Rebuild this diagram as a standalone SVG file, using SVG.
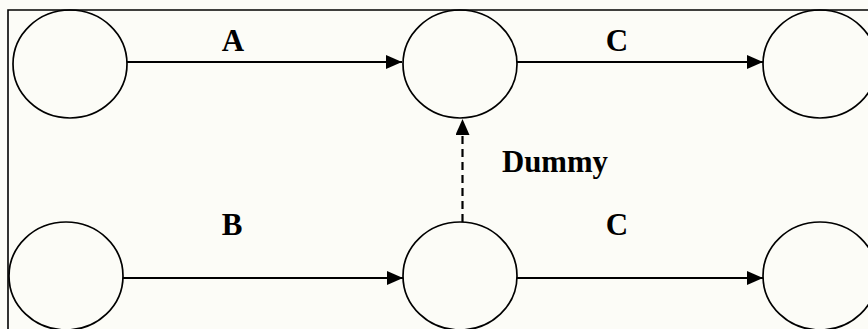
<svg xmlns="http://www.w3.org/2000/svg" width="868" height="329" viewBox="0 0 868 329">
  <style>
    .node { fill: none; stroke: #000; stroke-width: 1.7; }
    .edge { stroke: #000; stroke-width: 2.2; fill: none; }
    .dash { stroke-dasharray: 8 5; }
    .lbl { font-family: "Liberation Serif", "Times New Roman", serif; font-weight: bold; font-size: 31px; fill: #000; }
  </style>
  <defs>
    <marker id="arr" markerUnits="userSpaceOnUse" markerWidth="16" markerHeight="14" refX="16" refY="7" orient="auto">
      <path d="M0,0 L16,7 L0,14 Z" fill="#000"/>
    </marker>
  </defs>
  <rect x="0" y="0" width="868" height="329" fill="#fcfcf7"/>
  <path d="M8,329 L8,10 L868,10" fill="none" stroke="#000" stroke-width="1.6"/>

  <g id="n1"><ellipse class="node" cx="70" cy="64" rx="57" ry="54"/></g>
  <g id="n2"><ellipse class="node" cx="460" cy="64" rx="57" ry="54"/></g>
  <g id="n3"><ellipse class="node" cx="820" cy="64" rx="57" ry="54"/></g>
  <g id="n4"><ellipse class="node" cx="66" cy="276" rx="57" ry="54"/></g>
  <g id="n5"><ellipse class="node" cx="460" cy="276" rx="57" ry="54"/></g>
  <g id="n6"><ellipse class="node" cx="820" cy="276" rx="57" ry="54"/></g>

  <g id="connectors">
    <line class="edge" x1="127" y1="62" x2="402" y2="62" marker-end="url(#arr)"/>
    <line class="edge" x1="517" y1="62" x2="763" y2="62" marker-end="url(#arr)"/>
    <line class="edge" x1="123" y1="278" x2="403" y2="278" marker-end="url(#arr)"/>
    <line class="edge" x1="517" y1="278" x2="763" y2="278" marker-end="url(#arr)"/>
    <line class="edge dash" x1="462.5" y1="222" x2="462.5" y2="119" marker-end="url(#arr)"/>
  </g>

  <g id="labels">
    <text class="lbl" x="233" y="51" text-anchor="middle">A</text>
    <text class="lbl" x="617" y="51" text-anchor="middle">C</text>
    <text class="lbl" x="232" y="235" text-anchor="middle">B</text>
    <text class="lbl" x="617" y="235" text-anchor="middle">C</text>
    <text class="lbl" x="502" y="172" font-size="27" textLength="106" lengthAdjust="spacingAndGlyphs">Dummy</text>
  </g>
</svg>
